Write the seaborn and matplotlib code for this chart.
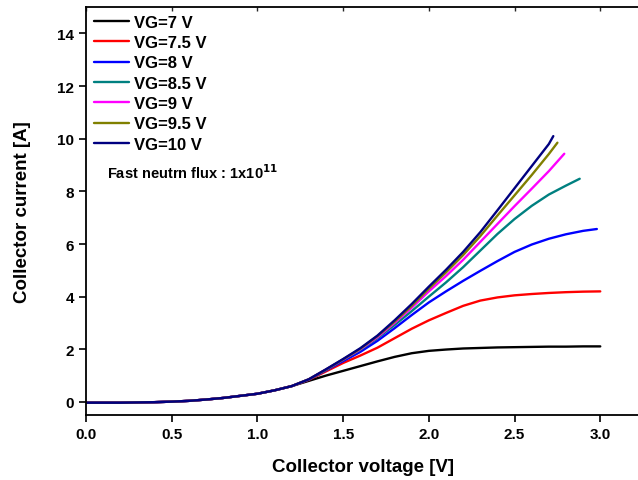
import numpy as np
import pandas as pd
import matplotlib
matplotlib.use("Agg")
import matplotlib.pyplot as plt
import seaborn as sns

# Collector voltage grid [V] shared by the low-voltage part of every curve
v_low = [0.0, 0.1, 0.2, 0.3, 0.4, 0.5, 0.6, 0.7, 0.8, 0.9, 1.0, 1.1, 1.2]
i_low = [-0.03, -0.03, -0.03, -0.02, -0.01, 0.01, 0.04, 0.09, 0.15, 0.23, 0.31, 0.44, 0.6]

# Upper part of each curve: voltage [V] and collector current [A]
v_7 = [1.3, 1.4, 1.5, 1.6, 1.7, 1.8, 1.9, 2.0, 2.1, 2.2, 2.3, 2.4, 2.5, 2.6, 2.7, 2.8, 2.9, 3.0]
i_7 = [0.8, 1.0, 1.18, 1.36, 1.54, 1.71, 1.85, 1.94, 1.99, 2.03, 2.05, 2.07, 2.08, 2.09, 2.1, 2.1, 2.11, 2.11]

v_75 = [1.3, 1.4, 1.5, 1.6, 1.7, 1.8, 1.9, 2.0, 2.1, 2.2, 2.3, 2.4, 2.5, 2.6, 2.7, 2.8, 2.9, 3.0]
i_75 = [0.84, 1.16, 1.48, 1.76, 2.06, 2.42, 2.78, 3.1, 3.38, 3.65, 3.85, 3.97, 4.05, 4.1, 4.14, 4.17, 4.19, 4.2]

v_8 = [1.3, 1.4, 1.5, 1.6, 1.7, 1.8, 1.9, 2.0, 2.1, 2.2, 2.3, 2.4, 2.5, 2.6, 2.7, 2.8, 2.9, 2.98]
i_8 = [0.85, 1.2, 1.55, 1.9, 2.32, 2.8, 3.3, 3.78, 4.2, 4.6, 4.98, 5.35, 5.7, 5.98, 6.2, 6.37, 6.5, 6.57]

v_85 = [1.3, 1.4, 1.5, 1.6, 1.7, 1.8, 1.9, 2.0, 2.1, 2.2, 2.3, 2.4, 2.5, 2.6, 2.7, 2.8, 2.88]
i_85 = [0.86, 1.22, 1.6, 1.98, 2.42, 2.92, 3.45, 4.0, 4.54, 5.12, 5.75, 6.38, 6.95, 7.45, 7.88, 8.22, 8.48]

v_9 = [1.3, 1.4, 1.5, 1.6, 1.7, 1.8, 1.9, 2.0, 2.1, 2.2, 2.3, 2.4, 2.5, 2.6, 2.7, 2.79]
i_9 = [0.86, 1.23, 1.61, 2.0, 2.46, 3.0, 3.58, 4.2, 4.78, 5.4, 6.08, 6.76, 7.44, 8.1, 8.77, 9.43]

v_95 = [1.3, 1.4, 1.5, 1.6, 1.7, 1.8, 1.9, 2.0, 2.1, 2.2, 2.3, 2.4, 2.5, 2.6, 2.7, 2.75]
i_95 = [0.86, 1.23, 1.62, 2.02, 2.5, 3.05, 3.65, 4.3, 4.92, 5.58, 6.3, 7.08, 7.85, 8.62, 9.42, 9.85]

v_10 = [1.3, 1.4, 1.5, 1.6, 1.7, 1.8, 1.9, 2.0, 2.1, 2.2, 2.3, 2.4, 2.5, 2.6, 2.7, 2.726]
i_10 = [0.86, 1.24, 1.63, 2.04, 2.52, 3.1, 3.72, 4.38, 5.02, 5.7, 6.45, 7.28, 8.12, 8.96, 9.8, 10.1]

labels = ["VG=7 V", "VG=7.5 V", "VG=8 V", "VG=8.5 V", "VG=9 V", "VG=9.5 V", "VG=10 V"]
colors = ["#000000", "#ff0000", "#0000ff", "#008080", "#ff00ff", "#808000", "#000080"]
uppers = [(v_7, i_7), (v_75, i_75), (v_8, i_8), (v_85, i_85),
          (v_9, i_9), (v_95, i_95), (v_10, i_10)]

rows = []
for lab, (vu, iu) in zip(labels, uppers):
    for v, i in zip(v_low + vu, i_low + iu):
        rows.append({"V": v, "I": i, "gate": lab})
df = pd.DataFrame(rows)

sns.set_style("ticks")
plt.rcParams["font.family"] = ["Liberation Sans", "DejaVu Sans"]
plt.rcParams["font.weight"] = "bold"
plt.rcParams["text.color"] = "black"
plt.rcParams["axes.labelcolor"] = "black"

fig = plt.figure(figsize=(6.38, 4.81), dpi=100)
ax = fig.add_axes([0.1348, 0.135, 1.004 - 0.1348, 0.983 - 0.135])

sns.lineplot(data=df, x="V", y="I", hue="gate", hue_order=labels,
             palette=colors, linewidth=1.7, sort=False, estimator=None,
             ax=ax, legend=True)

ax.set_xlim(0, 3.235)
ax.set_ylim(-0.5, 15)
ax.set_xticks([0.0, 0.5, 1.0, 1.5, 2.0, 2.5, 3.0])
ax.set_xticklabels(["0.0", "0.5", "1.0", "1.5", "2.0", "2.5", "3.0"])
ax.set_yticks([0, 2, 4, 6, 8, 10, 12, 14])
ax.tick_params(axis="both", labelsize=11, width=1.2, length=5, direction="out",
               colors="black")
for t in ax.get_xticklabels() + ax.get_yticklabels():
    t.set_fontweight("bold")

for side in ["left", "bottom", "top"]:
    ax.spines[side].set_linewidth(1.3)
    ax.spines[side].set_color("black")
ax.spines["right"].set_visible(False)

# short inward ticks along the top spine
top = ax.secondary_xaxis("top")
top.set_xticks([0.0, 0.5, 1.0, 1.5, 2.0, 2.5, 3.0])
top.tick_params(direction="in", length=3, width=1.0, labeltop=False)
top.spines["top"].set_visible(False)

ax.set_xlabel("Collector voltage [V]", fontsize=13.5, fontweight="bold",
              labelpad=12, color="black")
ax.set_ylabel("Collector current [A]", fontsize=13.5, fontweight="bold",
              labelpad=19, color="black")

leg = ax.legend(loc="upper left", frameon=False, fontsize=12, handlelength=2.1,
                handletextpad=0.35, labelspacing=0.32, borderaxespad=0.1,
                borderpad=0.35, bbox_to_anchor=(0.0, 1.0))
for t in leg.get_texts():
    t.set_fontweight("bold")
    t.set_color("black")
for h in leg.get_lines():
    h.set_linewidth(1.7)

ax.text(0.12, 8.75, r"Fast neutrn flux : 1x10$^{\mathbf{11}}$", fontsize=10.5,
        fontweight="bold", va="center", ha="left", color="black")

fig.savefig("out.png", dpi=100)
